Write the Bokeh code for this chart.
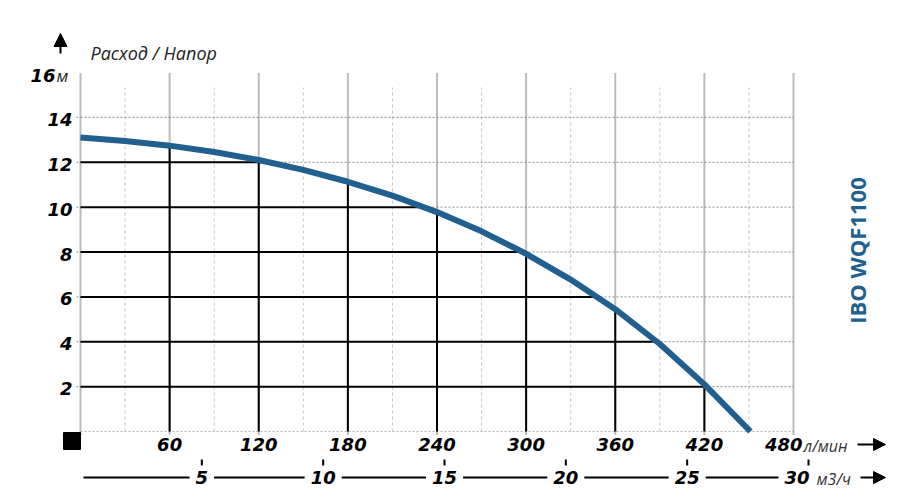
import numpy as np
from bokeh.plotting import figure
from bokeh.models import Range1d, Arrow, NormalHead
from bokeh.core.properties import value
from bokeh.embed import file_html
from bokeh.resources import INLINE

# ---------------- data ----------------
flow_lmin = [0, 30, 60, 90, 120, 150, 180, 210, 240, 270, 300, 330, 360, 390, 420, 451]
head_m = [13.1, 12.95, 12.74, 12.46, 12.10, 11.66, 11.13, 10.51, 9.78, 8.92, 7.92, 6.77, 5.45, 3.9, 2.1, 0.0]

x_ticks_lmin = [60, 120, 180, 240, 300, 360, 420, 480]
x_minor_lmin = [30, 90, 150, 210, 270, 330, 390, 450]
y_ticks_m = [2, 4, 6, 8, 10, 12, 14, 16]
x_ticks_m3h = [5, 10, 15, 20, 25, 30]
title_text = "Расход / Напор"
unit_y = "м"
unit_x1 = "л/мин"
unit_x2 = "м3/ч"
model_name = "IBO WQF1100"

BLUE = "#215f8e"
FONT = "Open Sans"
NUMFONT = "DejaVu Sans"

# ---------------- frame mapping (page pixels) ----------------
W, H = 915, 501
PX_X0, PX_X480 = 80, 793
PX_Y0, PX_Y16 = 431, 72
sx = (PX_X480 - PX_X0) / 480.0
sy = (PX_Y0 - PX_Y16) / 16.0
PX_M30 = 808
sm = (PX_M30 - PX_X0) / 30.0


def dx(px):
    return (px - PX_X0) / sx


def dy(py):
    return (PX_Y0 - py) / sy


p = figure(width=W, height=H, output_backend="svg", toolbar_location=None,
           x_range=Range1d(-PX_X0 / sx, 480 + (W - PX_X480) / sx),
           y_range=Range1d(-(H - PX_Y0) / sy, 16 + PX_Y16 / sy),
           x_axis_location=None, y_axis_location=None, min_border=0)
p.extra_x_ranges = {"m3h": Range1d(-PX_X0 / sm, (W - PX_X0) / sm)}
p.grid.visible = False
p.outline_line_color = None
p.background_fill_color = "white"
p.border_fill_color = "white"

num_style = dict(text_font=value(NUMFONT), text_font_style="bold italic", text_font_size="18px",
                 text_baseline="middle", text_color="black")

# ---------------- grid ----------------
p.segment(x0=x_minor_lmin, y0=[0] * len(x_minor_lmin), x1=x_minor_lmin,
          y1=[dy(87)] * len(x_minor_lmin), line_color="#c4c4c4", line_width=1, line_dash="3 3")
hy = [v for v in y_ticks_m if v < 16]
p.segment(x0=[dx(76)] * len(hy), y0=hy, x1=[480] * len(hy), y1=hy,
          line_color="#8a8a8a", line_width=1, line_dash="2 2")
p.segment(x0=[0], y0=[0], x1=[480], y1=[0], line_color="#b0b0b0", line_width=1, line_dash="2 2")
vx = [0] + x_ticks_lmin
p.segment(x0=vx, y0=[dy(434)] * len(vx), x1=vx, y1=[16] * len(vx),
          line_color="#7a7a7a", line_width=2, line_dash="1 1")

# ---------------- solid lines under the curve ----------------
fl = np.array(flow_lmin, dtype=float)
hd = np.array(head_m, dtype=float)
sv_x = [v for v in x_ticks_lmin if v < fl[-1]]
sv_top = [float(np.interp(v, fl, hd)) for v in sv_x]
p.segment(x0=sv_x, y0=[0] * len(sv_x), x1=sv_x, y1=sv_top, line_color="black", line_width=2)
sh_y = [v for v in y_ticks_m if v < hd[0]]
sh_end = [float(np.interp(v, hd[::-1], fl[::-1])) for v in sh_y]
p.segment(x0=[0] * len(sh_y), y0=sh_y, x1=sh_end, y1=sh_y, line_color="black", line_width=2)

# ---------------- curve ----------------
p.line(flow_lmin, head_m, line_color=BLUE, line_width=6, line_join="round")

# ---------------- y labels ----------------
yl = y_ticks_m[:-1]
p.text(x=[dx(72)] * len(yl), y=yl, text=[str(v) for v in yl], text_align="right", y_offset=2, **num_style)
p.text(x=[dx(55)], y=[16], text=[str(y_ticks_m[-1])], text_align="right", y_offset=3, **num_style)
p.text(x=[dx(56)], y=[16], text=[unit_y], text_font=value(FONT), text_font_style="italic",
       text_font_size="17px", text_align="left", text_baseline="middle", text_color="#222", y_offset=3)

# ---------------- x labels (l/min) ----------------
xl = x_ticks_lmin[:-1]
p.text(x=xl, y=[dy(444)] * len(xl), text=[str(v) for v in xl], text_align="center", **num_style)
p.text(x=[dx(802)], y=[dy(444)], text=[str(x_ticks_lmin[-1])], text_align="right", **num_style)
p.text(x=[dx(803)], y=[dy(445)], text=[unit_x1], text_font=value(FONT), text_font_style="italic",
       text_font_size="16px", text_align="left", text_baseline="middle", text_color="#333")

# ---------------- second axis (m3/h) ----------------
p.line(x=[0.12, 30], y=[dy(477), dy(477)], line_color="black", line_width=2, x_range_name="m3h")
ml = x_ticks_m3h[:-1]
p.text(x=ml, y=[dy(477)] * len(ml), text=[str(v) for v in ml], text_align="center",
       background_fill_color="white", padding=6, x_range_name="m3h", **num_style)
p.text(x=[dx(815)], y=[dy(477)], text=[str(x_ticks_m3h[-1])], text_align="right",
       background_fill_color="white", padding=6, **num_style)
p.segment(x0=x_ticks_m3h, y0=[dy(459)] * len(x_ticks_m3h), x1=x_ticks_m3h,
          y1=[dy(465)] * len(x_ticks_m3h), line_color="black", line_width=2, x_range_name="m3h")
p.text(x=[dx(816)], y=[dy(478)], text=[unit_x2], text_font=value(FONT), text_font_style="italic",
       text_font_size="16px", text_align="left", text_baseline="middle", text_color="#333")

# ---------------- arrows & decorations ----------------
p.add_layout(Arrow(x_start=dx(857), y_start=dy(444), x_end=dx(885), y_end=dy(444),
                   line_color="black", line_width=2,
                   end=NormalHead(size=12, fill_color="black", line_color="black")))
p.add_layout(Arrow(x_start=dx(860), y_start=dy(477), x_end=dx(885), y_end=dy(477),
                   line_color="black", line_width=2,
                   end=NormalHead(size=12, fill_color="black", line_color="black")))
p.add_layout(Arrow(x_start=dx(60), y_start=dy(53), x_end=dx(60), y_end=dy(33),
                   line_color="black", line_width=2,
                   end=NormalHead(size=13, fill_color="black", line_color="black")))
p.scatter(x=[dx(71.5)], y=[dy(440.5)], marker="square", size=17, color="black")

p.text(x=[dx(90)], y=[dy(52)], text=[title_text], text_font=value(FONT), text_font_style="italic",
       text_font_size="18px", text_align="left", text_baseline="middle", text_color="#222")
p.text(x=[dx(856)], y=[dy(250)], text=[model_name], angle=np.pi / 2, text_font=value(FONT),
       text_font_style="bold", text_font_size="22px", text_align="center",
       text_baseline="middle", text_color=BLUE)

open("out.html", "w").write(file_html(p, INLINE))
